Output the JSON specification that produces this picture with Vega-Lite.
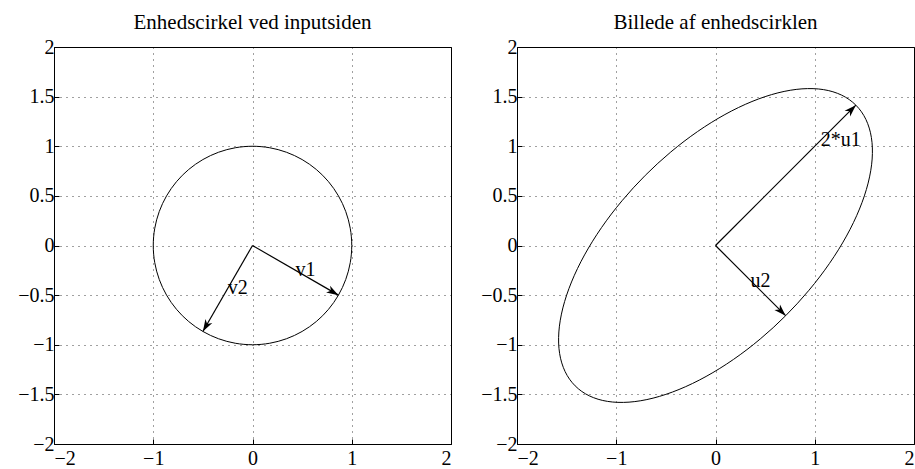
{
  "$schema": "https://vega.github.io/schema/vega-lite/v6.json",
  "background": "white",
  "padding": {"left": 17, "top": 11, "right": 0, "bottom": 0},
  "spacing": 66,
  "bounds": "flush",
  "datasets": {
    "circle": [
      {"t": 0, "x": 1.0, "y": 0.0}, {"t": 10, "x": 0.9848, "y": 0.1736}, {"t": 20, "x": 0.9397, "y": 0.342},
      {"t": 30, "x": 0.866, "y": 0.5}, {"t": 40, "x": 0.766, "y": 0.6428}, {"t": 50, "x": 0.6428, "y": 0.766},
      {"t": 60, "x": 0.5, "y": 0.866}, {"t": 70, "x": 0.342, "y": 0.9397}, {"t": 80, "x": 0.1736, "y": 0.9848},
      {"t": 90, "x": 0.0, "y": 1.0}, {"t": 100, "x": -0.1736, "y": 0.9848}, {"t": 110, "x": -0.342, "y": 0.9397},
      {"t": 120, "x": -0.5, "y": 0.866}, {"t": 130, "x": -0.6428, "y": 0.766}, {"t": 140, "x": -0.766, "y": 0.6428},
      {"t": 150, "x": -0.866, "y": 0.5}, {"t": 160, "x": -0.9397, "y": 0.342}, {"t": 170, "x": -0.9848, "y": 0.1736},
      {"t": 180, "x": -1.0, "y": 0.0}, {"t": 190, "x": -0.9848, "y": -0.1736}, {"t": 200, "x": -0.9397, "y": -0.342},
      {"t": 210, "x": -0.866, "y": -0.5}, {"t": 220, "x": -0.766, "y": -0.6428}, {"t": 230, "x": -0.6428, "y": -0.766},
      {"t": 240, "x": -0.5, "y": -0.866}, {"t": 250, "x": -0.342, "y": -0.9397}, {"t": 260, "x": -0.1736, "y": -0.9848},
      {"t": 270, "x": 0.0, "y": -1.0}, {"t": 280, "x": 0.1736, "y": -0.9848}, {"t": 290, "x": 0.342, "y": -0.9397},
      {"t": 300, "x": 0.5, "y": -0.866}, {"t": 310, "x": 0.6428, "y": -0.766}, {"t": 320, "x": 0.766, "y": -0.6428},
      {"t": 330, "x": 0.866, "y": -0.5}, {"t": 340, "x": 0.9397, "y": -0.342}, {"t": 350, "x": 0.9848, "y": -0.1736}
    ],
    "ellipse": [
      {"t": 0, "x": 1.4142, "y": 1.4142}, {"t": 10, "x": 1.5155, "y": 1.27}, {"t": 20, "x": 1.5708, "y": 1.0871},
      {"t": 30, "x": 1.5783, "y": 0.8712}, {"t": 40, "x": 1.5379, "y": 0.6288}, {"t": 50, "x": 1.4507, "y": 0.3674},
      {"t": 60, "x": 1.3195, "y": 0.0948}, {"t": 70, "x": 1.1481, "y": -0.1808}, {"t": 80, "x": 0.9419, "y": -0.4508},
      {"t": 90, "x": 0.7071, "y": -0.7071}, {"t": 100, "x": 0.4508, "y": -0.9419}, {"t": 110, "x": 0.1808, "y": -1.1481},
      {"t": 120, "x": -0.0948, "y": -1.3195}, {"t": 130, "x": -0.3674, "y": -1.4507}, {"t": 140, "x": -0.6288, "y": -1.5379},
      {"t": 150, "x": -0.8712, "y": -1.5783}, {"t": 160, "x": -1.0871, "y": -1.5708}, {"t": 170, "x": -1.27, "y": -1.5155},
      {"t": 180, "x": -1.4142, "y": -1.4142}, {"t": 190, "x": -1.5155, "y": -1.27}, {"t": 200, "x": -1.5708, "y": -1.0871},
      {"t": 210, "x": -1.5783, "y": -0.8712}, {"t": 220, "x": -1.5379, "y": -0.6288}, {"t": 230, "x": -1.4507, "y": -0.3674},
      {"t": 240, "x": -1.3195, "y": -0.0948}, {"t": 250, "x": -1.1481, "y": 0.1808}, {"t": 260, "x": -0.9419, "y": 0.4508},
      {"t": 270, "x": -0.7071, "y": 0.7071}, {"t": 280, "x": -0.4508, "y": 0.9419}, {"t": 290, "x": -0.1808, "y": 1.1481},
      {"t": 300, "x": 0.0948, "y": 1.3195}, {"t": 310, "x": 0.3674, "y": 1.4507}, {"t": 320, "x": 0.6288, "y": 1.5379},
      {"t": 330, "x": 0.8712, "y": 1.5783}, {"t": 340, "x": 1.0871, "y": 1.5708}, {"t": 350, "x": 1.27, "y": 1.5155}
    ],
    "inputVectors": [
      {"name": "v1", "x0": 0, "y0": 0, "x": 0.866, "y": -0.5, "heading": 120, "lx": 0.433, "ly": -0.25},
      {"name": "v2", "x0": 0, "y0": 0, "x": -0.5, "y": -0.866, "heading": 210, "lx": -0.25, "ly": -0.433}
    ],
    "imageVectors": [
      {"name": "2*u1", "x0": 0, "y0": 0, "x": 1.4142, "y": 1.4142, "heading": 45, "lx": 1.0607, "ly": 1.0607},
      {"name": "u2", "x0": 0, "y0": 0, "x": 0.7071, "y": -0.7071, "heading": 135, "lx": 0.3536, "ly": -0.3536}
    ]
  },
  "config": {
    "view": {"stroke": "black", "strokeWidth": 1},
    "font": "Liberation Serif",
    "axis": {
      "domain": false,
      "labelFont": "Liberation Serif",
      "labelFontSize": 20,
      "labelColor": "black",
      "tickColor": "black",
      "tickSize": -5,
      "labelPadding": 5,
      "grid": true,
      "gridColor": "black",
      "gridDash": [1, 5],
      "gridOpacity": 0.75,
      "gridWidth": 1,
      "title": null,
      "format": ".1~f"
    },
    "axisX": {"labelPadding": 9},
    "title": {"font": "Liberation Serif", "fontSize": 21, "fontWeight": "normal", "color": "black", "offset": 4}
  },
  "hconcat": [
    {
      "title": "Enhedscirkel ved inputsiden",
      "width": 397,
      "height": 397,
      "layer": [
        {
          "data": {"name": "circle"},
          "mark": {"type": "line", "interpolate": "cardinal-closed", "color": "black", "strokeWidth": 1},
          "encoding": {
            "x": {"field": "x", "type": "quantitative", "scale": {"domain": [-2, 2], "nice": false, "zero": false}, "axis": {"values": [-2, -1, 0, 1, 2]}},
            "y": {"field": "y", "type": "quantitative", "scale": {"domain": [-2, 2], "nice": false, "zero": false}, "axis": {"values": [-2, -1.5, -1, -0.5, 0, 0.5, 1, 1.5, 2]}},
            "order": {"field": "t", "type": "quantitative"}
          }
        },
        {
          "data": {"name": "inputVectors"},
          "mark": {"type": "rule", "color": "black", "strokeWidth": 1.2},
          "encoding": {
            "x": {"field": "x0", "type": "quantitative"},
            "y": {"field": "y0", "type": "quantitative"},
            "x2": {"field": "x"},
            "y2": {"field": "y"}
          }
        },
        {
          "data": {"name": "inputVectors"},
          "mark": {"type": "point", "shape": "M0,0L-0.33,1L0,0.72L0.33,1Z", "filled": true, "color": "black", "opacity": 1, "size": 576},
          "encoding": {
            "x": {"field": "x", "type": "quantitative"},
            "y": {"field": "y", "type": "quantitative"},
            "angle": {"field": "heading", "type": "quantitative", "scale": null}
          }
        },
        {
          "data": {"name": "inputVectors"},
          "mark": {"type": "text", "align": "left", "baseline": "middle", "fontSize": 20, "font": "Liberation Serif", "color": "black"},
          "encoding": {
            "x": {"field": "lx", "type": "quantitative"},
            "y": {"field": "ly", "type": "quantitative"},
            "text": {"field": "name"}
          }
        }
      ]
    },
    {
      "title": "Billede af enhedscirklen",
      "width": 397,
      "height": 397,
      "layer": [
        {
          "data": {"name": "ellipse"},
          "mark": {"type": "line", "interpolate": "cardinal-closed", "color": "black", "strokeWidth": 1},
          "encoding": {
            "x": {"field": "x", "type": "quantitative", "scale": {"domain": [-2, 2], "nice": false, "zero": false}, "axis": {"values": [-2, -1, 0, 1, 2]}},
            "y": {"field": "y", "type": "quantitative", "scale": {"domain": [-2, 2], "nice": false, "zero": false}, "axis": {"values": [-2, -1.5, -1, -0.5, 0, 0.5, 1, 1.5, 2]}},
            "order": {"field": "t", "type": "quantitative"}
          }
        },
        {
          "data": {"name": "imageVectors"},
          "mark": {"type": "rule", "color": "black", "strokeWidth": 1.2},
          "encoding": {
            "x": {"field": "x0", "type": "quantitative"},
            "y": {"field": "y0", "type": "quantitative"},
            "x2": {"field": "x"},
            "y2": {"field": "y"}
          }
        },
        {
          "data": {"name": "imageVectors"},
          "mark": {"type": "point", "shape": "M0,0L-0.33,1L0,0.72L0.33,1Z", "filled": true, "color": "black", "opacity": 1, "size": 576},
          "encoding": {
            "x": {"field": "x", "type": "quantitative"},
            "y": {"field": "y", "type": "quantitative"},
            "angle": {"field": "heading", "type": "quantitative", "scale": null}
          }
        },
        {
          "data": {"name": "imageVectors"},
          "mark": {"type": "text", "align": "left", "baseline": "middle", "fontSize": 20, "font": "Liberation Serif", "color": "black"},
          "encoding": {
            "x": {"field": "lx", "type": "quantitative"},
            "y": {"field": "ly", "type": "quantitative"},
            "text": {"field": "name"}
          }
        }
      ]
    }
  ]
}
